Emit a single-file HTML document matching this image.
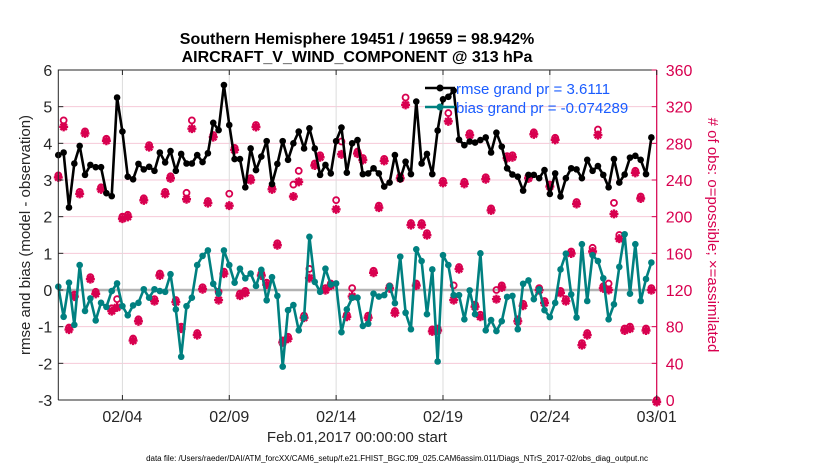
<!DOCTYPE html>
<html><head><meta charset="utf-8"><style>
html,body{margin:0;padding:0;background:#fff;}
svg{display:block;font-family:"Liberation Sans",sans-serif;}
</style></head><body>
<svg id="chart" width="830" height="470" viewBox="0 0 830 470">
<text x="357" y="44" text-anchor="middle" font-size="16" font-weight="bold">Southern Hemisphere 19451 / 19659 = 98.942%</text>
<text x="357" y="62" text-anchor="middle" font-size="16" font-weight="bold">AIRCRAFT_V_WIND_COMPONENT @ 313 hPa</text>
<g id="grid"></g>
<g id="series"></g>
<g id="axes"></g>
<text x="0" y="0" transform="translate(30,235) rotate(-90)" text-anchor="middle" font-size="15" fill="#262626">rmse and bias (model - observation)</text>
<text x="0" y="0" transform="translate(708,235) rotate(90)" text-anchor="middle" font-size="15" fill="#d8004f"># of obs: o=possible; ×=assimilated</text>
<text x="357" y="442" text-anchor="middle" font-size="15" fill="#262626">Feb.01,2017 00:00:00 start</text>
<text x="397" y="461" text-anchor="middle" font-size="8" fill="#000">data file: /Users/raeder/DAI/ATM_forcXX/CAM6_setup/f.e21.FHIST_BGC.f09_025.CAM6assim.011/Diags_NTrS_2017-02/obs_diag_output.nc</text>
<g id="legend">
<line x1="425" y1="88" x2="455" y2="88" stroke="#000" stroke-width="2.5"/>
<circle cx="440" cy="88" r="3.5" fill="#000"/>
<text x="456" y="94" font-size="15" fill="#1a5cff">rmse grand pr = 3.6111</text>
<line x1="425" y1="107" x2="455" y2="107" stroke="#008080" stroke-width="2.5"/>
<circle cx="440" cy="107" r="3.5" fill="#008080"/>
<text x="456" y="113" font-size="15" fill="#1a5cff">bias grand pr = -0.074289</text>
</g>
</svg>
<script>
const rmse=[3.68,3.75,2.25,3.45,3.93,3.14,3.41,3.35,3.35,2.64,2.56,5.25,4.32,3.09,3.02,3.44,3.29,3.36,3.25,3.75,3.48,3.79,3.25,3.71,3.45,3.45,3.68,3.49,3.73,4.56,4.36,5.59,4.5,3.57,3.57,2.8,3.86,3.27,3.64,4.06,2.89,3.44,4.06,3.55,4.0,4.32,3.86,4.41,3.86,3.14,3.41,3.18,4.06,4.43,3.2,4.0,4.09,3.16,3.18,3.32,3.18,2.82,2.93,3.68,3.02,3.5,3.16,5.14,3.45,3.71,3.16,4.35,5.2,5.27,5.44,4.1,3.95,4.05,4.02,4.09,4.16,3.75,4.29,3.91,3.32,3.15,3.09,2.71,3.14,3.14,3.05,3.27,2.62,3.18,2.55,3.05,3.32,3.29,3.05,3.55,3.25,3.38,3.14,2.8,3.57,2.93,3.15,3.61,3.66,3.55,3.16,4.16];
const bias=[0.09,-0.73,0.2,-0.95,0.68,-0.57,-0.23,-0.83,-0.35,-0.46,-0.03,0.18,-0.44,-0.69,-0.42,-0.35,0.02,-0.21,0.02,-0.03,-0.05,0.43,-0.53,-1.82,-0.44,-0.21,0.68,0.93,1.08,0.17,-0.1,1.08,0.68,0.2,0.58,0.32,0.45,0.11,0.55,-0.28,0.35,-0.16,-2.09,-0.55,-0.41,-1.1,-0.75,1.45,0.22,-0.05,0.58,0.15,0.18,-1.15,-0.53,-0.21,-0.21,-0.98,-0.92,-0.1,-0.18,-0.14,0.11,-0.36,0.91,-0.62,-1.07,1.11,0.79,-0.66,0.56,-1.95,0.95,0.68,-0.14,-0.14,-0.8,-0.01,-0.66,1.0,-1.1,-0.82,-1.12,-0.85,-0.19,-0.16,-1.07,0.17,0.26,-0.25,0.02,-0.55,-0.74,-0.35,0.56,0.99,-0.12,-0.75,1.25,-0.3,0.95,0.79,0.32,-0.8,-0.39,0.63,1.52,-0.1,1.25,-0.3,0.3,0.75];
const obsUsed=[245,298,79,115,227,293,134,118,232,285,97,101,200,202,67,88,220,278,110,138,227,244,109,80,219,296,73,123,217,289,109,140,212,275,116,119,242,300,138,128,232,171,65,69,222,238,92,133,258,267,122,127,208,268,93,113,271,264,92,141,212,263,124,97,244,322,193,127,193,182,77,78,239,304,109,145,238,291,104,93,243,209,110,125,266,267,88,105,244,292,122,108,235,286,119,110,162,216,62,73,162,289,124,120,203,176,78,80,250,222,78,122,0];
const obsPoss=[245,305,79,115,227,293,134,118,232,285,100,110,200,202,67,88,220,278,110,138,227,244,109,80,226,305,73,123,217,289,118,140,225,275,116,119,242,300,138,128,232,171,65,69,235,250,92,143,258,267,122,127,218,282,93,122,271,264,92,141,212,263,124,97,244,330,193,127,193,182,77,78,239,313,125,145,238,291,104,93,243,209,120,125,266,267,88,105,244,292,122,108,235,286,119,110,162,216,62,73,166,295,124,127,215,180,78,80,250,222,78,122,0];
const leftTicks=[-3,-2,-1,0,1,2,3,4,5,6];
const rightTicks=[0,40,80,120,160,200,240,280,320,360];
const dateTicks=[3,8,13,18,23,28];
const dateLabels=["02/04","02/09","02/14","02/19","02/24","03/01"];
const stepDays=0.25;

const X0=58.3,X1=656.7,Y0=400,Y1=70;
const xs=d=>X0+(d/28)*(X1-X0);
const yL=v=>Y0-(v+3)/9*(Y0-Y1);
const yR=v=>Y0-v/360*(Y0-Y1);
const NS="http://www.w3.org/2000/svg";
function mk(tag,attrs,parent){const e=document.createElementNS(NS,tag);for(const k in attrs)e.setAttribute(k,attrs[k]);parent.appendChild(e);return e;}
const grid=document.getElementById('grid'),series=document.getElementById('series'),axes=document.getElementById('axes');
const PINK="#d8004f";
leftTicks.forEach(v=>{if(v===-3||v===6)return;const l=mk('line',{x1:X0,x2:X1,y1:yL(v),y2:yL(v),stroke:"#f6c9d8","stroke-width":1},grid);

});
dateTicks.forEach(d=>{const l=mk('line',{x1:xs(d),x2:xs(d),y1:Y1,y2:Y0,stroke:"#dcdcdc","stroke-width":1},grid);

});
const z=mk('line',{x1:X0,x2:X1,y1:yL(0),y2:yL(0),stroke:"#b3b3b3","stroke-width":2.5},series);


function star(cx,cy,g){const r=4.5;const p=`M${cx-r},${cy}H${cx+r}M${cx},${cy-r}V${cy+r}M${cx-3.2},${cy-3.2}L${cx+3.2},${cy+3.2}M${cx-3.2},${cy+3.2}L${cx+3.2},${cy-3.2}`;return mk('path',{d:p,stroke:PINK,"stroke-width":2.4,fill:"none"},g);}
obsPoss.forEach((v,i)=>{const c=mk('circle',{cx:xs(i*stepDays),cy:yR(v),r:3,fill:"none",stroke:PINK,"stroke-width":1.8},series);

});
obsUsed.forEach((v,i)=>{const s=star(xs(i*stepDays),yR(v)+(obsPoss[i]>v?0:2),series);

});
function line(arr,color,name){
 const pts=arr.map((v,i)=>xs(i*stepDays).toFixed(1)+","+yL(v).toFixed(1)).join(" ");
 const pl=mk('polyline',{points:pts,fill:"none",stroke:color,"stroke-width":2.6,"stroke-linejoin":"round"},series);
 
 
 arr.forEach((v,i)=>{const c=mk('circle',{cx:xs(i*stepDays),cy:yL(v),r:3.3,fill:color},series);
 
 });
}
line(bias,"#008080","bias");
line(rmse,"#000000","rmse");
const fr=mk('path',{d:`M${X0},${Y0}V${Y1}H${X1}M${X0},${Y0}H${X1}`,stroke:"#262626","stroke-width":1,fill:"none"},axes);


const ra=mk('line',{x1:X1,x2:X1,y1:Y1,y2:Y0,stroke:PINK,"stroke-width":1.2},axes);


leftTicks.forEach(v=>{mk('line',{x1:X0,x2:X0+5,y1:yL(v),y2:yL(v),stroke:"#262626"},axes);
const t=mk('text',{x:X0-6,y:yL(v)+6,"text-anchor":"end","font-size":16,fill:"#262626"},axes);t.textContent=v;

});
rightTicks.forEach(v=>{mk('line',{x1:X1,x2:X1-5,y1:yR(v),y2:yR(v),stroke:PINK},axes);
const t=mk('text',{x:X1+9,y:yR(v)+6,"font-size":16,fill:PINK},axes);t.textContent=v;

});
dateTicks.forEach((d,i)=>{mk('line',{x1:xs(d),x2:xs(d),y1:Y0,y2:Y0-5,stroke:"#262626"},axes);mk('line',{x1:xs(d),x2:xs(d),y1:Y1,y2:Y1+5,stroke:"#262626"},axes);
const t=mk('text',{x:xs(d),y:422,"text-anchor":"middle","font-size":16,fill:"#262626"},axes);t.textContent=dateLabels[i];

});
</script>
</body></html>
